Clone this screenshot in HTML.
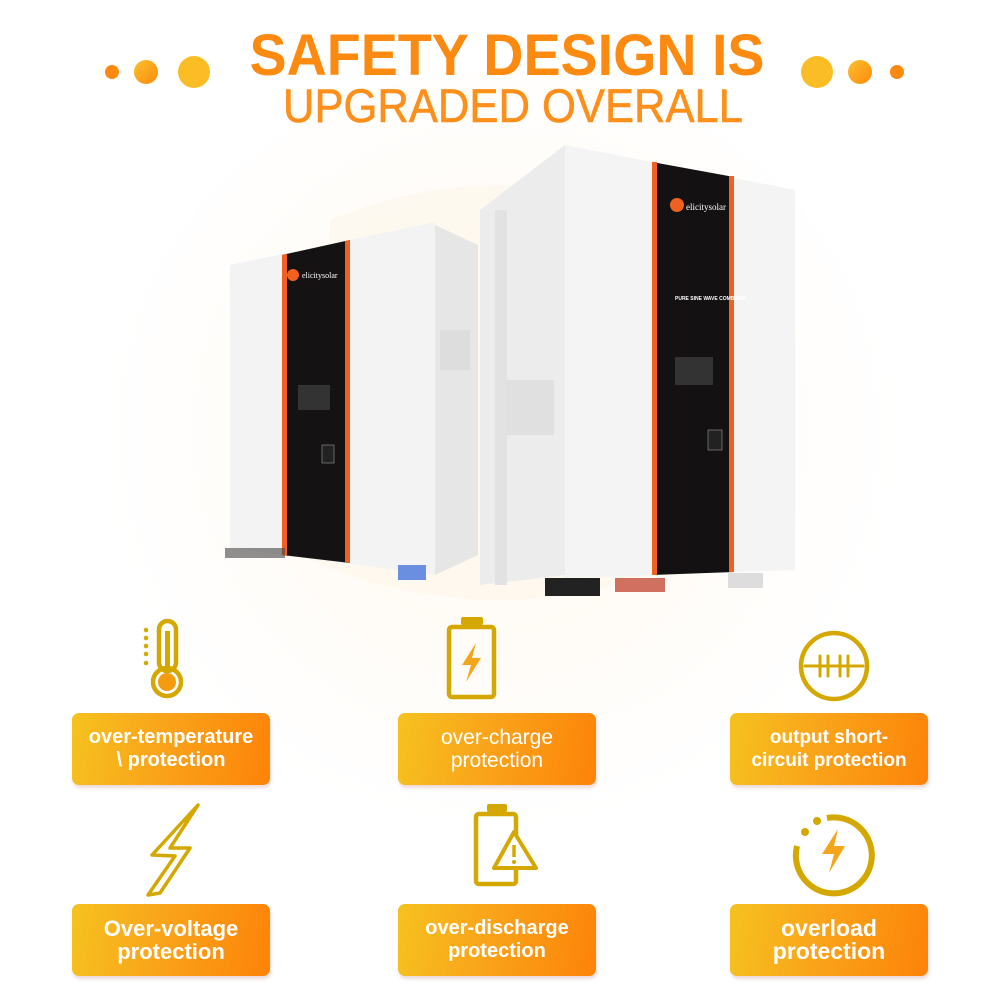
<!DOCTYPE html>
<html><head><meta charset="utf-8">
<style>
html,body{margin:0;padding:0;background:#fff;}
body{width:1000px;height:1000px;position:relative;overflow:hidden;font-family:"Liberation Sans",sans-serif;}
.box{position:absolute;width:198px;height:72px;border-radius:7px;background:linear-gradient(100deg,#f6c21f 0%,#f9a41a 45%,#fd8308 100%);box-shadow:1px 3px 3px rgba(200,150,150,0.35);color:#fff;font-weight:bold;display:flex;align-items:center;justify-content:center;text-align:center;line-height:23px;}
</style></head><body>
<svg width="1000" height="1000" style="position:absolute;left:0;top:0">
<defs>
<radialGradient id="bg" cx="0.5" cy="0.45" r="0.5">
<stop offset="0" stop-color="#fff8ee"/><stop offset="1" stop-color="#ffffff"/></radialGradient>
<linearGradient id="dg" x1="0" y1="0" x2="1" y2="1"><stop offset="0" stop-color="#fbc02a"/><stop offset="1" stop-color="#fd8a10"/></linearGradient>
</defs>
<circle cx="500" cy="470" r="400" fill="url(#bg)"/>
<path d="M330 220 Q500 150 670 220 L690 560 Q500 640 310 560Z" fill="#fdf6ea" opacity="0.6"/>
<!-- dots -->
<circle cx="112" cy="72" r="7" fill="#fd8a10"/>
<circle cx="146" cy="72" r="12" fill="url(#dg)"/>
<circle cx="194" cy="72" r="16" fill="#fbbd25"/>
<circle cx="817" cy="72" r="16" fill="#fbbd25"/>
<circle cx="860" cy="72" r="12" fill="url(#dg)"/>
<circle cx="897" cy="72" r="7" fill="#fd8a10"/>
<text x="507" y="75" text-anchor="middle" font-family="Liberation Sans Narrow, Liberation Sans, sans-serif" font-weight="bold" font-size="58" fill="#fd8a10" textLength="515" lengthAdjust="spacingAndGlyphs">SAFETY DESIGN IS</text>
<text x="513" y="122" text-anchor="middle" font-family="Liberation Sans Narrow, Liberation Sans, sans-serif" font-size="47" fill="#fd8f1a" stroke="#fd8f1a" stroke-width="0.6" textLength="460" lengthAdjust="spacingAndGlyphs">UPGRADED OVERALL</text>

<!-- left inverter -->
<polygon points="435,225 478,245 478,555 435,575" fill="#e6e6e6"/>
<polygon points="230,265 435,222 435,575 230,548" fill="#f3f3f3"/>
<polygon points="282,255 350,240 350,563 282,555" fill="#141212"/>
<polygon points="282,255 287,254 287,556 282,555" fill="#f06020"/>
<polygon points="345,241 350,240 350,563 345,562" fill="#f06020"/>
<circle cx="293" cy="275" r="6" fill="#f06020"/>
<text x="302" y="278" font-size="8" fill="#fff" font-family="Liberation Serif,serif">elicitysolar</text>
<rect x="298" y="385" width="32" height="25" fill="#333"/>
<rect x="322" y="445" width="12" height="18" fill="#222" stroke="#888" stroke-width="0.7"/>
<rect x="440" y="330" width="30" height="40" fill="#ddd"/>
<rect x="398" y="565" width="28" height="15" fill="#6a8fe0"/>
<!-- right inverter -->
<polygon points="480,210 565,145 565,575 480,585" fill="#ececec"/>
<rect x="495" y="210" width="12" height="375" fill="#e2e2e2"/>
<polygon points="565,145 795,190 795,570 565,578" fill="#f4f4f4"/>
<polygon points="652,162 734,177 734,572 652,575" fill="#131111"/>
<rect x="652" y="162" width="5" height="413" fill="#f06020"/>
<rect x="729" y="176" width="5" height="396" fill="#f06020"/>
<circle cx="677" cy="205" r="7" fill="#f06020"/>
<text x="686" y="210" font-size="9" fill="#fff" font-family="Liberation Serif,serif">elicitysolar</text>
<text x="675" y="300" font-size="5" fill="#fff" font-weight="bold">PURE SINE WAVE COMBINED</text>
<rect x="675" y="357" width="38" height="28" fill="#333"/>
<rect x="708" y="430" width="14" height="20" fill="#222" stroke="#888" stroke-width="0.7"/>
<rect x="506" y="380" width="48" height="55" fill="#e0e0e0"/>
<rect x="545" y="578" width="55" height="18" fill="#222"/>
<rect x="615" y="578" width="50" height="14" fill="#d07060"/>
<rect x="728" y="573" width="35" height="15" fill="#ddd"/>
<rect x="225" y="548" width="60" height="10" fill="#444" opacity="0.6"/>

<!-- icons row1 -->
<g stroke="#d4a800" stroke-width="4.5" fill="none" stroke-linecap="round">
 <rect x="159" y="621" width="17" height="50" rx="8.5"/>
 <circle cx="167" cy="682" r="14"/>
 <line x1="146" y1="630" x2="146" y2="630"/><line x1="146" y1="638" x2="146" y2="638"/><line x1="146" y1="646" x2="146" y2="646"/><line x1="146" y1="654" x2="146" y2="654"/><line x1="146" y1="663" x2="146" y2="663"/>
 <rect x="449" y="627" width="45" height="70" rx="3"/>
 <circle cx="834" cy="666" r="33"/>
 <line x1="805" y1="666" x2="863" y2="666" stroke-width="3"/>
 <line x1="820" y1="656" x2="820" y2="676" stroke-width="3"/><line x1="828" y1="656" x2="828" y2="676" stroke-width="3"/>
 <line x1="840" y1="656" x2="840" y2="676" stroke-width="3"/><line x1="848" y1="656" x2="848" y2="676" stroke-width="3"/>
</g>
<rect x="165" y="631" width="5" height="40" fill="#d4a800"/>
<circle cx="167" cy="682" r="9" fill="#f49b10"/>
<rect x="461" y="617" width="22" height="8" rx="2" fill="#d4a800"/>
<polygon points="476,643 462,665 471,665 466,682 481,658 472,658" fill="#f3a61a"/>
<!-- icons row2 -->
<polygon points="198,805 152,855 175,856 148,895 160,893 190,848 170,848" fill="none" stroke="#d4a800" stroke-width="3.5" stroke-linejoin="round"/>
<g stroke="#d4a800" stroke-width="4.5" fill="none">
 <rect x="476" y="814" width="40" height="70" rx="3"/>
 <path d="M827 818 A38 38 0 1 1 797 846" stroke-width="6"/>
</g>
<rect x="487" y="804" width="20" height="8" rx="2" fill="#d4a800"/>
<polygon points="514,832 494,868 536,868" fill="#fff" stroke="#d4a800" stroke-width="4" stroke-linejoin="round"/>
<line x1="514" y1="845" x2="514" y2="857" stroke="#d4a800" stroke-width="3.5"/>
<circle cx="514" cy="862" r="2" fill="#d4a800"/>
<circle cx="817" cy="821" r="4" fill="#d4a800"/>
<circle cx="805" cy="832" r="4" fill="#d4a800"/>
<polygon points="838,829 822,854 834,854 829,873 845,846 834,846" fill="#f3a61a"/>
</svg>
<div class="box" style="left:72px;top:713px;font-size:20px;">over-temperature<br>\ protection</div>
<div class="box" style="left:398px;top:713px;font-size:21px;font-weight:normal;">over-charge<br>protection</div>
<div class="box" style="left:730px;top:713px;font-size:19px;">output short-<br>circuit protection</div>
<div class="box" style="left:72px;top:904px;font-size:22px;">Over-voltage<br>protection</div>
<div class="box" style="left:398px;top:904px;font-size:20px;">over-discharge<br>protection</div>
<div class="box" style="left:730px;top:904px;font-size:23px;">overload<br>protection</div>
</body></html>
